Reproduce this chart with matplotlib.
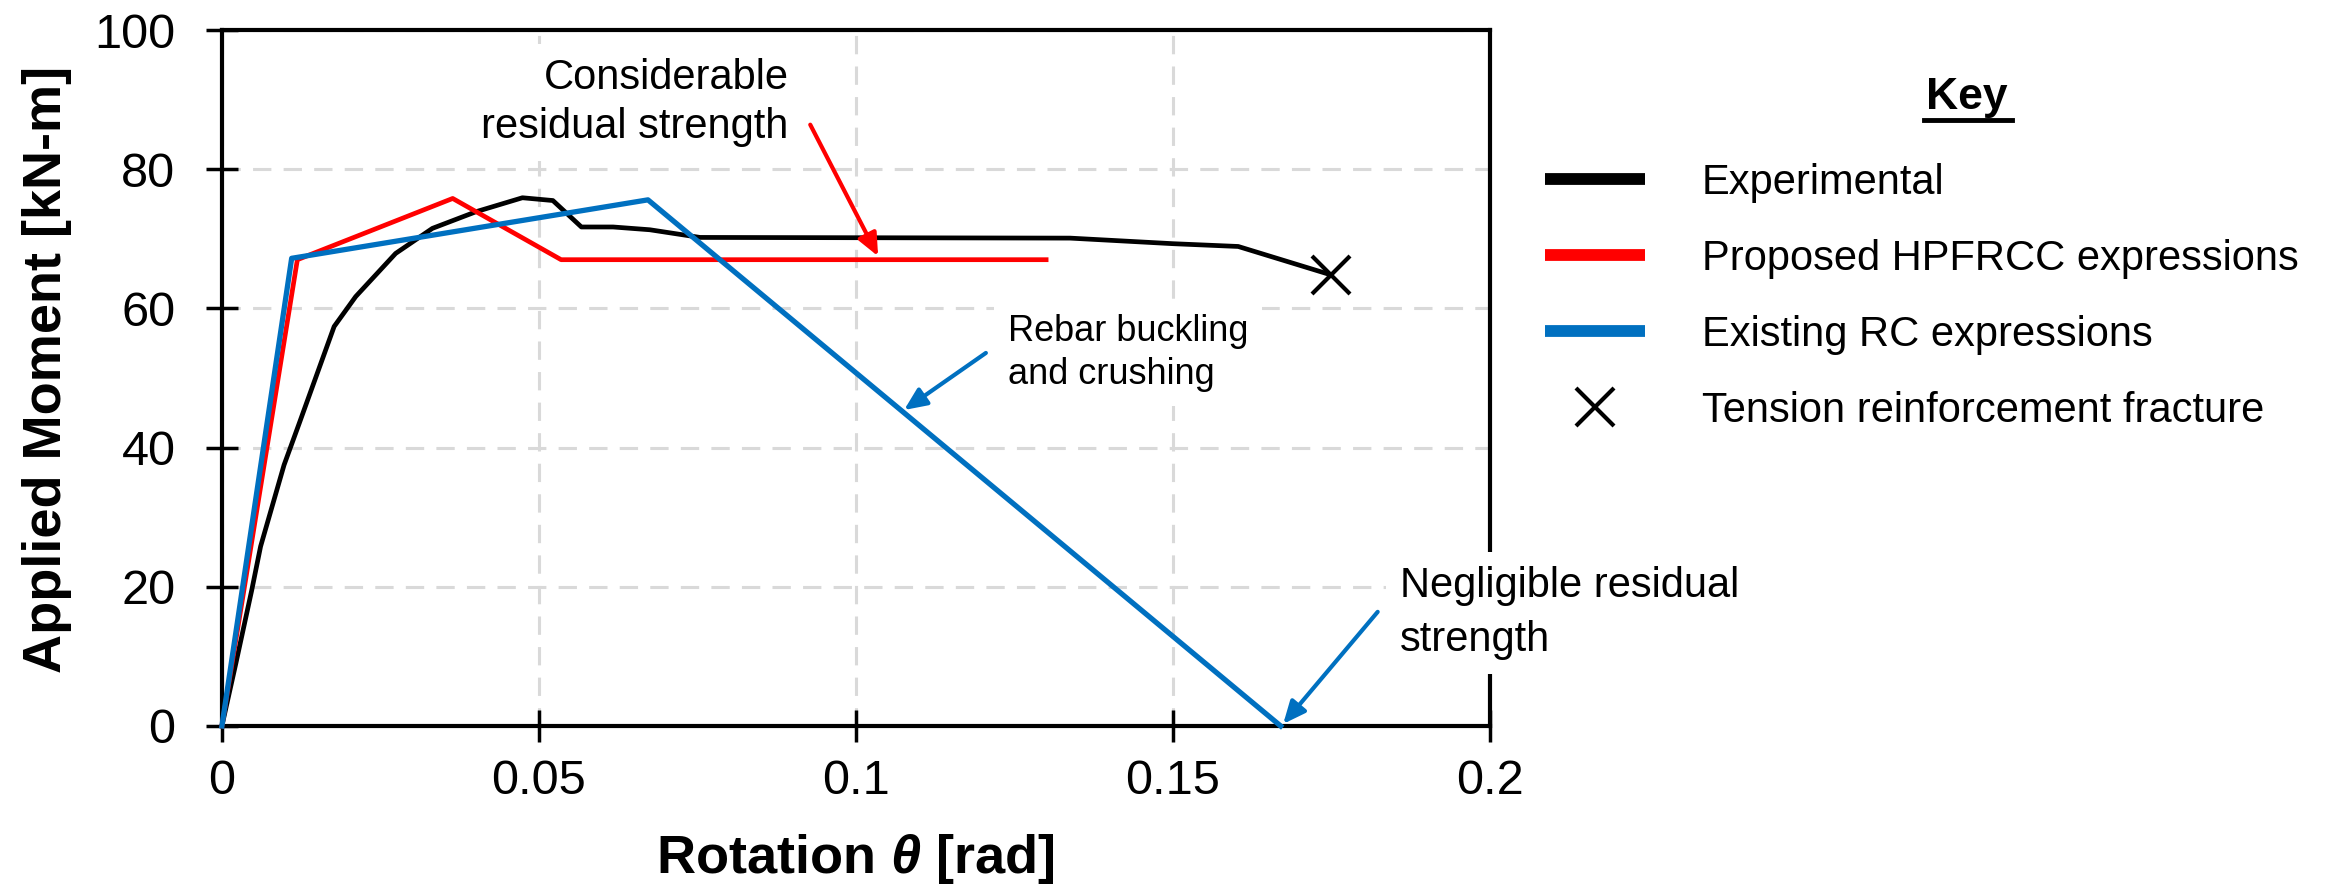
import matplotlib
matplotlib.use("Agg")
import matplotlib.pyplot as plt
from matplotlib.lines import Line2D
from matplotlib.ticker import FuncFormatter

plt.rcParams['font.family'] = ['Liberation Sans', 'DejaVu Sans']
plt.rcParams['mathtext.fontset'] = 'custom'
plt.rcParams['mathtext.it'] = 'Liberation Sans:italic:bold'

# Moment-rotation response: test data and the two analytical models
exp_rot = [0, 0.0022, 0.0047, 0.0061, 0.0098, 0.0122, 0.0177, 0.0211, 0.0274,
           0.0332, 0.0401, 0.0474, 0.0522, 0.0567, 0.0617, 0.0675, 0.0754,
           0.1338, 0.150, 0.1603, 0.175]
exp_mom = [0, 9.0, 19.5, 25.8, 37.5, 43.5, 57.4, 61.7, 67.9,
           71.5, 73.9, 75.9, 75.5, 71.7, 71.7, 71.3, 70.2,
           70.1, 69.3, 68.9, 64.8]

hp_rot = [0, 0.0119, 0.0364, 0.0535, 0.130]
hp_mom = [0, 67.0, 75.8, 67.0, 67.0]

rc_rot = [0, 0.0110, 0.0672, 0.167]
rc_mom = [0, 67.2, 75.6, 0]

frac_rot = [0.175]
frac_mom = [64.8]

x_ticks = [0, 0.05, 0.1, 0.15, 0.2]
y_ticks = [0, 20, 40, 60, 80, 100]

series_labels = ['Experimental', 'Proposed HPFRCC expressions',
                 'Existing RC expressions', 'Tension reinforcement fracture']

RED = '#FF0000'
BLUE = '#0070C0'

fig = plt.figure(figsize=(23.36, 8.91), dpi=100)
ax = fig.add_axes([0.0950, 0.1852, 0.5428, 0.7811])

ax.plot(exp_rot, exp_mom, color='black', lw=3.4, zorder=3, clip_on=False)
ax.plot(hp_rot, hp_mom, color=RED, lw=3.4, zorder=3, clip_on=False)
ax.plot(rc_rot, rc_mom, color=BLUE, lw=3.8, zorder=3, clip_on=False)
ax.plot(frac_rot, frac_mom, ls='none', marker='x', ms=27, mew=3,
        color='black', zorder=4, clip_on=False)

ax.set_xlim(0, 0.2)
ax.set_ylim(0, 100)
ax.set_xticks(x_ticks)
ax.set_yticks(y_ticks)
ax.xaxis.set_major_formatter(FuncFormatter(lambda v, p: f'{v:g}'))
ax.grid(True, color='#d9d9d9', lw=2.2, ls=(0, (6, 4)))
ax.set_axisbelow(True)
for sp in ax.spines.values():
    sp.set_linewidth(3)
ax.tick_params(direction='inout', length=23, width=2.5, labelsize=35)
ax.tick_params(axis='y', pad=22)
ax.tick_params(axis='x', pad=12)

ax.set_xlabel(r'Rotation $\theta$ [rad]', fontsize=39, fontweight='bold')
ax.xaxis.set_label_coords(0.5, -0.153)
ax.set_ylabel('Applied Moment [kN-m]', fontsize=39, fontweight='bold')
ax.yaxis.set_label_coords(-0.118, 0.513)

# callouts
box = dict(fc='white', ec='none', pad=10)
ax.text(0.0894, 96.0, 'Considerable\nresidual strength', ha='right', va='top',
        multialignment='right', fontsize=30, linespacing=1.3, bbox=box,
        zorder=6)
ax.text(0.1240, 59.2, 'Rebar buckling\nand crushing', ha='left', va='top',
        fontsize=26, linespacing=1.3, bbox=box, zorder=6)
ax.text(0.1858, 23.0, 'Negligible residual\nstrength', ha='left', va='top',
        fontsize=30, linespacing=1.45, bbox=box, zorder=6, clip_on=False)

arrow_style = '-|>,head_length=0.45,head_width=0.2'
ax.annotate('', xy=(0.1035, 67.5), xytext=(0.0928, 86.4),
            arrowprops=dict(arrowstyle=arrow_style, color=RED, lw=3,
                            mutation_scale=30, shrinkA=0, shrinkB=0),
            annotation_clip=False, zorder=7)
ax.annotate('', xy=(0.1076, 45.4), xytext=(0.1205, 53.6),
            arrowprops=dict(arrowstyle=arrow_style, color=BLUE, lw=3,
                            mutation_scale=30, shrinkA=0, shrinkB=0),
            annotation_clip=False, zorder=7)
ax.annotate('', xy=(0.1674, 0.3), xytext=(0.1823, 16.4),
            arrowprops=dict(arrowstyle=arrow_style, color=BLUE, lw=3,
                            mutation_scale=30, shrinkA=0, shrinkB=0),
            annotation_clip=False, zorder=7)

# key on the right
handles = [Line2D([], [], color='black', lw=8.5, solid_capstyle='butt'),
           Line2D([], [], color=RED, lw=8.5, solid_capstyle='butt'),
           Line2D([], [], color=BLUE, lw=8.5, solid_capstyle='butt'),
           Line2D([], [], ls='none', marker='x', ms=28, mew=3, color='black')]
fig.legend(handles, series_labels, loc='upper left',
           bbox_to_anchor=(0.6614, 0.817), frameon=False, fontsize=30,
           handlelength=2.4, handletextpad=1.37, labelspacing=0.86,
           borderpad=0, borderaxespad=0)

fig.text(1967 / 2336, 1 - 97 / 891, 'Key', ha='center', va='center',
         fontsize=32, fontweight='bold')
fig.add_artist(Line2D([1924 / 2336, 2012 / 2336], [0.8653, 0.8653],
                      transform=fig.transFigure, color='black', lw=3.5))

fig.savefig('out.png', dpi=100)
